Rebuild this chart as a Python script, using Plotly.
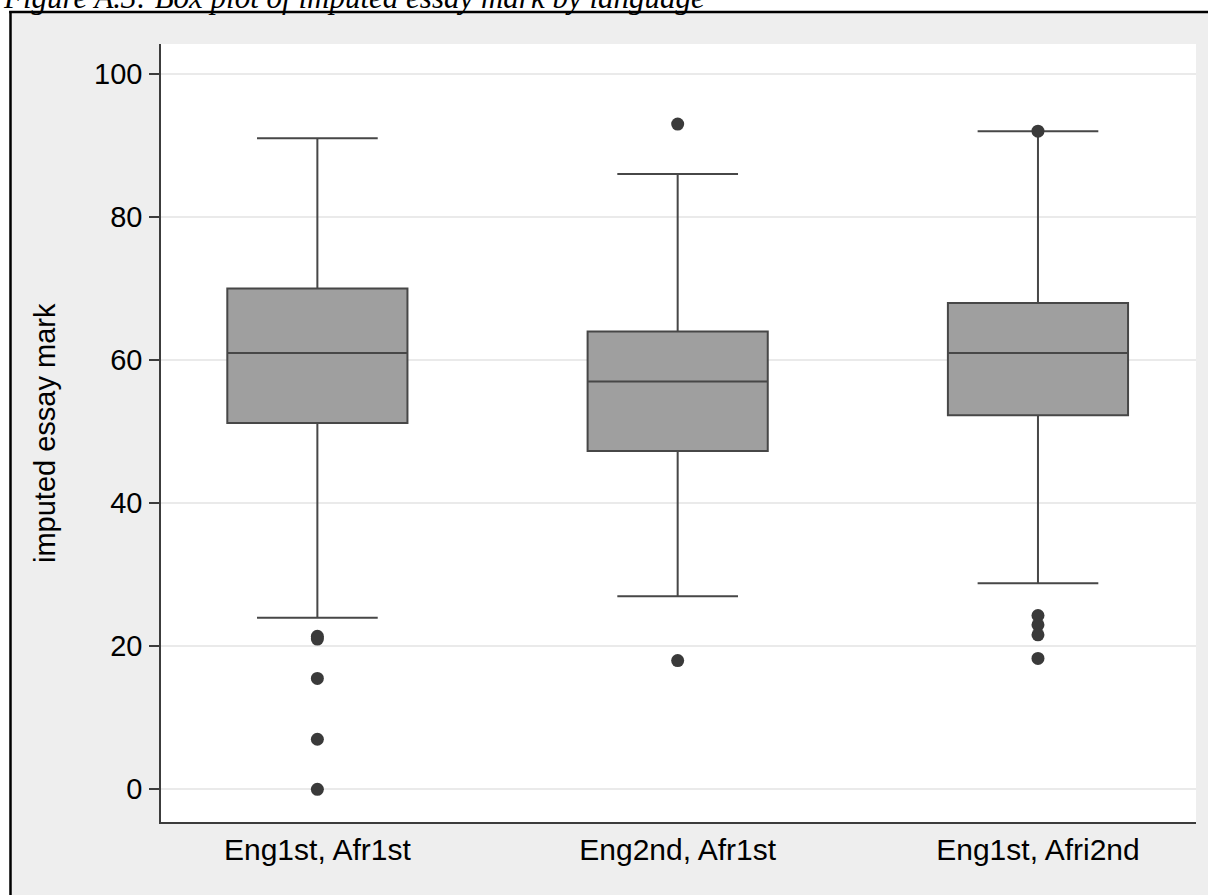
import plotly.graph_objects as go

# Summary statistics of the imputed essay mark by language group
groups = ["Eng1st, Afr1st", "Eng2nd, Afr1st", "Eng1st, Afri2nd"]
lower_whisker = [24.0, 27.0, 28.8]
q1 = [51.2, 47.3, 52.3]
median = [61.0, 57.0, 61.0]
q3 = [70.0, 64.0, 68.0]
upper_whisker = [91.0, 86.0, 92.0]

# Outlying observations per group
outliers = {
    "Eng1st, Afr1st": [21.4, 21.0, 15.5, 7.0, 0.0],
    "Eng2nd, Afr1st": [93.0, 18.0],
    "Eng1st, Afri2nd": [92.0, 24.3, 23.0, 21.6, 18.3],
}

y_ticks = [0, 20, 40, 60, 80, 100]

W, H = 1208, 895
L, R, T, B = 161, 1196, 44, 822  # plot-area edges in pixels


def px_x(px):
    return (px - L) / (R - L)


def px_y(py):
    return (B - py) / (B - T)


BOX_FILL = "#9F9F9F"
LINE = "#474747"
DOT = "#3A3A3A"
FONT = "Liberation Sans, Arial, sans-serif"

fig = go.Figure()

fig.add_trace(go.Box(
    x=groups,
    q1=q1,
    median=median,
    q3=q3,
    lowerfence=lower_whisker,
    upperfence=upper_whisker,
    boxpoints=False,
    fillcolor=BOX_FILL,
    line=dict(color=LINE, width=2),
    width=0.5,
    whiskerwidth=0.67,
    showlegend=False,
    hoverinfo="skip",
))

ox, oy = [], []
for g in groups:
    for v in outliers[g]:
        ox.append(g)
        oy.append(v)

fig.add_trace(go.Scatter(
    x=ox, y=oy, mode="markers",
    marker=dict(color=DOT, size=13, line=dict(width=0)),
    showlegend=False, hoverinfo="skip",
))

shapes = [
    # white strips outside the graph frame
    dict(type="rect", xref="paper", yref="paper",
         x0=px_x(-5), x1=px_x(9.5), y0=px_y(H + 5), y1=px_y(-5),
         fillcolor="white", line=dict(width=0), layer="below"),
    dict(type="rect", xref="paper", yref="paper",
         x0=px_x(-5), x1=px_x(W + 5), y0=px_y(11), y1=px_y(-5),
         fillcolor="white", line=dict(width=0), layer="below"),
    # frame border
    dict(type="line", xref="paper", yref="paper",
         x0=px_x(10.5), x1=px_x(10.5), y0=px_y(11), y1=px_y(H + 5),
         line=dict(color="black", width=2.5)),
    dict(type="line", xref="paper", yref="paper",
         x0=px_x(9.2), x1=px_x(W + 5), y0=px_y(12), y1=px_y(12),
         line=dict(color="black", width=2.5)),
]

annotations = [
    dict(text="Figure A.3: Box plot of imputed essay mark by language",
         xref="paper", yref="paper", x=px_x(1), y=px_y(17),
         xanchor="left", yanchor="bottom", showarrow=False,
         font=dict(family="Liberation Serif, Times New Roman, serif",
                   size=31, color="black", style="italic")),
    dict(text="imputed essay mark", xref="paper", yref="paper",
         x=px_x(45), y=0.5, xanchor="center", yanchor="middle",
         textangle=-90, showarrow=False,
         font=dict(family=FONT, size=29, color="black")),
]

fig.update_layout(
    width=W, height=H,
    margin=dict(l=L, r=W - R, t=T, b=H - B, pad=0),
    paper_bgcolor="#EEEEEE",
    plot_bgcolor="white",
    shapes=shapes,
    annotations=annotations,
    xaxis=dict(
        type="category",
        range=[-0.434, 2.4386],
        showgrid=False, zeroline=False,
        showline=True, linecolor="#3C3C3C", linewidth=1.5,
        ticks="", tickfont=dict(family=FONT, size=30, color="black"),
        fixedrange=True,
    ),
    yaxis=dict(
        range=[-4.57, 104.19],
        tickvals=y_ticks,
        ticktext=[str(v) for v in y_ticks],
        showgrid=True, gridcolor="#EAEAEA", gridwidth=2,
        zeroline=False,
        showline=True, linecolor="#3C3C3C", linewidth=1.5,
        ticks="outside", ticklen=10, tickwidth=1.5, tickcolor="#3C3C3C",
        tickfont=dict(family=FONT, size=29, color="black"),
        ticklabelstandoff=1,
        fixedrange=True,
    ),
)

fig.write_html("out.html")
